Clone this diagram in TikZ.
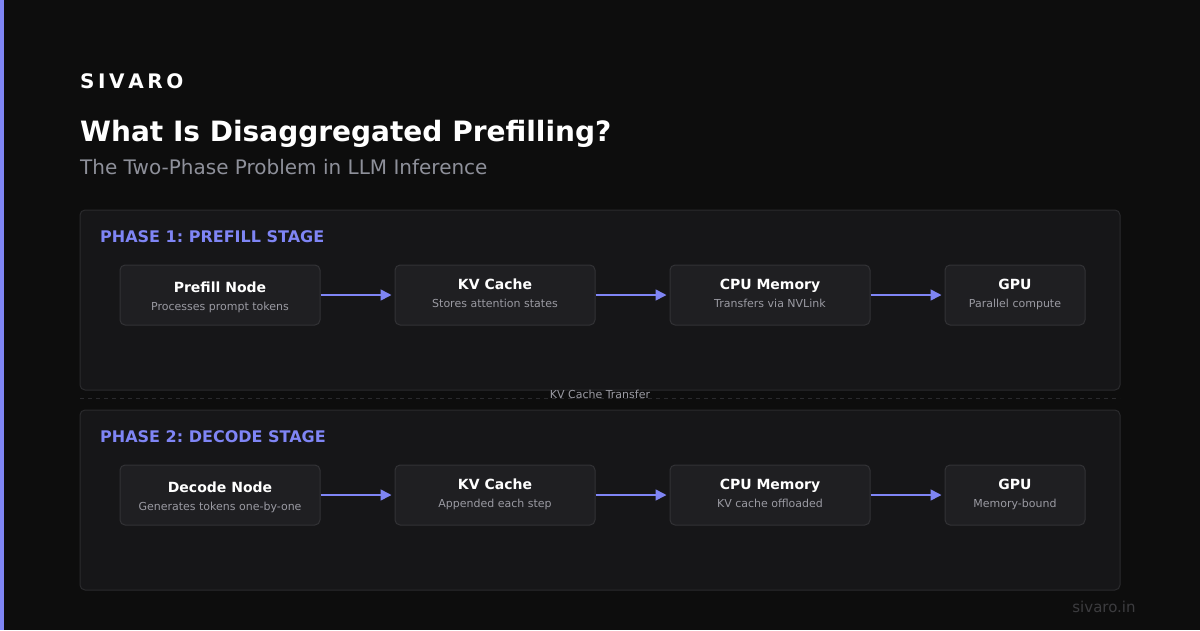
\documentclass[tikz,border=0pt]{standalone}
\usepackage{fontspec}
\setmainfont{DejaVu Sans}
\usetikzlibrary{arrows.meta}
\frenchspacing
\definecolor{bg}{HTML}{0D0D0D}
\definecolor{accent}{HTML}{7F85F5}
\definecolor{panelfill}{HTML}{161618}
\definecolor{panelline}{HTML}{2A2A2D}
\definecolor{boxfill}{HTML}{1F1F22}
\definecolor{boxline}{HTML}{323235}
\definecolor{subgray}{HTML}{8E909A}
\definecolor{smallgray}{HTML}{9A9AA2}
\definecolor{footgray}{HTML}{3C3C3F}
\tikzset{
  panel/.style={draw=panelline, line width=1pt, fill=panelfill, rounded corners=5pt},
  stagebox/.style={draw=boxline, line width=1pt, fill=boxfill, rounded corners=5pt},
  boxtitle/.style={anchor=base, text=white, font=\fontsize{14}{16}\selectfont\bfseries, inner sep=0pt},
  boxsub/.style={anchor=base, text=smallgray, font=\fontsize{11}{13}\selectfont, inner sep=0pt},
  phase/.style={anchor=base west, text=accent, font=\fontsize{16}{19}\selectfont\bfseries, inner sep=0pt},
  flow/.style={draw=accent, line width=1.6pt, shorten >=3pt, -{Triangle[length=11pt,width=11pt]}}
}
\begin{document}
\begin{tikzpicture}[x=1pt,y=-1pt]
  % canvas
  \fill[bg] (0,0) rectangle (1200,630);
  \useasboundingbox (0,0) rectangle (1200,630);
  \fill[accent] (0,0) rectangle (4,630);

  % heading
  \node[anchor=base west, inner sep=0pt, text=white, font=\fontsize{20}{24}\selectfont\bfseries] (brand) at (80,88)
    {S\hspace{3.6pt}I\hspace{3.6pt}V\hspace{3.6pt}A\hspace{3.6pt}R\hspace{3.6pt}O};
  \node[anchor=base west, inner sep=0pt, text=white, font=\fontsize{28}{34}\selectfont\bfseries] (title) at (80,141)
    {What Is Disaggregated Prefilling?};
  \node[anchor=base west, inner sep=0pt, text=subgray, font=\fontsize{20}{24}\selectfont] (subtitle) at (80,174)
    {The Two-Phase Problem in LLM Inference};

  % phase panels
  \draw[panel] (80,210) rectangle (1120,390);
  \draw[panel] (80,410) rectangle (1120,590);
  \node[phase] (p1) at (100,242) {PHASE 1: PREFILL STAGE};
  \node[phase] (p2) at (100,442) {PHASE 2: DECODE STAGE};

  % transfer divider
  \coordinate (divL) at (80,398);
  \coordinate (divR) at (1120,398);
  \draw[panelline, line width=1pt, dash pattern=on 4pt off 4pt] (divL) -- (divR);
  \node[inner sep=0pt, anchor=base, text=smallgray, font=\fontsize{11}{13}\selectfont] (xfer) at (600,398) {KV Cache Transfer};

  % phase 1 boxes
  \node[stagebox, minimum width=200pt, minimum height=60pt, inner sep=0pt] (a1) at (220,295) {};
  \node[stagebox, minimum width=200pt, minimum height=60pt, inner sep=0pt] (a2) at (495,295) {};
  \node[stagebox, minimum width=200pt, minimum height=60pt, inner sep=0pt] (a3) at (770,295) {};
  \node[stagebox, minimum width=140pt, minimum height=60pt, inner sep=0pt] (a4) at (1015,295) {};
  \node[boxtitle] (a1t) at (220,292) {Prefill Node};
  \node[boxsub]   (a1s) at (220,310) {Processes prompt tokens};
  \node[boxtitle] (a2t) at (495,289) {KV Cache};
  \node[boxsub]   (a2s) at (495,307) {Stores attention states};
  \node[boxtitle] (a3t) at (770,289) {CPU Memory};
  \node[boxsub]   (a3s) at (770,307) {Transfers via NVLink};
  \node[boxtitle] (a4t) at (1015,289) {GPU};
  \node[boxsub]   (a4s) at (1015,307) {Parallel compute};
  \draw[flow] (a1.east) -- (a2.west);
  \draw[flow] (a2.east) -- (a3.west);
  \draw[flow] (a3.east) -- (a4.west);

  % phase 2 boxes
  \node[stagebox, minimum width=200pt, minimum height=60pt, inner sep=0pt] (b1) at (220,495) {};
  \node[stagebox, minimum width=200pt, minimum height=60pt, inner sep=0pt] (b2) at (495,495) {};
  \node[stagebox, minimum width=200pt, minimum height=60pt, inner sep=0pt] (b3) at (770,495) {};
  \node[stagebox, minimum width=140pt, minimum height=60pt, inner sep=0pt] (b4) at (1015,495) {};
  \node[boxtitle] (b1t) at (220,492) {Decode Node};
  \node[boxsub]   (b1s) at (220,510) {Generates tokens one-by-one};
  \node[boxtitle] (b2t) at (495,489) {KV Cache};
  \node[boxsub]   (b2s) at (495,507) {Appended each step};
  \node[boxtitle] (b3t) at (770,489) {CPU Memory};
  \node[boxsub]   (b3s) at (770,507) {KV cache offloaded};
  \node[boxtitle] (b4t) at (1015,489) {GPU};
  \node[boxsub]   (b4s) at (1015,507) {Memory-bound};
  \draw[flow] (b1.east) -- (b2.west);
  \draw[flow] (b2.east) -- (b3.west);
  \draw[flow] (b3.east) -- (b4.west);

  % footer
  \node[anchor=base, inner sep=0pt, text=footgray, font=\fontsize{15}{18}\selectfont] (foot) at (1104,612) {sivaro.in};
\end{tikzpicture}
\end{document}
